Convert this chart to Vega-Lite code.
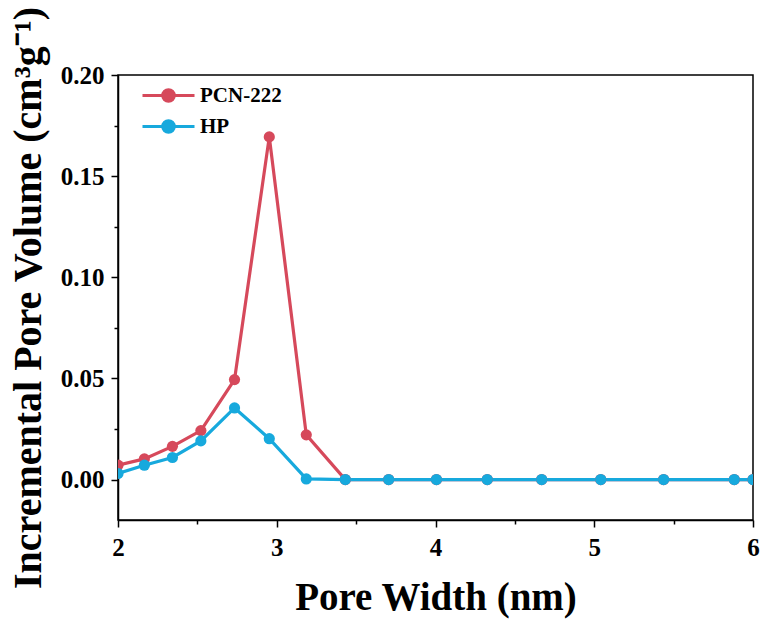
{
  "$schema": "https://vega.github.io/schema/vega-lite/v6.json",
  "autosize": "none",
  "width": 635,
  "height": 445,
  "padding": {"left": 118, "top": 75, "right": 7, "bottom": 99},
  "background": "white",
  "config": {
    "view": {"stroke": "black", "strokeWidth": 1.5},
    "font": "Liberation Serif"
  },
  "data": {"values": [
    {"series": "PCN-222", "x": 2.0, "y": 0.0071},
    {"series": "PCN-222", "x": 2.166, "y": 0.0102},
    {"series": "PCN-222", "x": 2.343, "y": 0.0164},
    {"series": "PCN-222", "x": 2.522, "y": 0.0242},
    {"series": "PCN-222", "x": 2.734, "y": 0.0494},
    {"series": "PCN-222", "x": 2.953, "y": 0.1694},
    {"series": "PCN-222", "x": 3.186, "y": 0.0221},
    {"series": "PCN-222", "x": 3.432, "y": 0.0},
    {"series": "PCN-222", "x": 3.705, "y": 0.0},
    {"series": "PCN-222", "x": 4.006, "y": 0.0},
    {"series": "PCN-222", "x": 4.326, "y": 0.0},
    {"series": "PCN-222", "x": 4.669, "y": 0.0},
    {"series": "PCN-222", "x": 5.041, "y": 0.0},
    {"series": "PCN-222", "x": 5.437, "y": 0.0},
    {"series": "PCN-222", "x": 5.882, "y": 0.0},
    {"series": "PCN-222", "x": 6.0, "y": 0.0},
    {"series": "HP", "x": 2.0, "y": 0.003},
    {"series": "HP", "x": 2.166, "y": 0.0071},
    {"series": "HP", "x": 2.343, "y": 0.0109},
    {"series": "HP", "x": 2.522, "y": 0.0191},
    {"series": "HP", "x": 2.734, "y": 0.0354},
    {"series": "HP", "x": 2.953, "y": 0.0202},
    {"series": "HP", "x": 3.186, "y": 0.0003},
    {"series": "HP", "x": 3.432, "y": 0.0},
    {"series": "HP", "x": 3.705, "y": 0.0},
    {"series": "HP", "x": 4.006, "y": 0.0},
    {"series": "HP", "x": 4.326, "y": 0.0},
    {"series": "HP", "x": 4.669, "y": 0.0},
    {"series": "HP", "x": 5.041, "y": 0.0},
    {"series": "HP", "x": 5.437, "y": 0.0},
    {"series": "HP", "x": 5.882, "y": 0.0},
    {"series": "HP", "x": 6.0, "y": 0.0}
  ]},
  "resolve": {"axis": {"x": "independent", "y": "independent"}},
  "layer": [
    {
      "mark": {"type": "line", "strokeWidth": 3.2, "clip": true},
      "encoding": {
        "x": {"field": "x", "type": "quantitative",
          "scale": {"domain": [2, 6], "nice": false, "zero": false},
          "axis": {"orient": "bottom", "values": [2, 3, 4, 5, 6], "format": "d", "grid": false,
            "domain": true, "domainColor": "black", "domainWidth": 1.5,
            "ticks": true, "tickColor": "black", "tickSize": 7, "tickWidth": 1.5,
            "labelFlush": false, "labelBound": false,
            "labelFont": "Liberation Serif", "labelFontWeight": "bold", "labelFontSize": 25, "labelColor": "black", "labelPadding": 8,
            "title": "Pore Width (nm)", "titleFont": "Liberation Serif", "titleFontWeight": "bold", "titleFontSize": 39, "titleColor": "black", "titlePadding": 18}},
        "y": {"field": "y", "type": "quantitative",
          "scale": {"domain": [-0.02, 0.2], "nice": false, "zero": false},
          "axis": {"orient": "left", "values": [0, 0.05, 0.1, 0.15, 0.2], "format": ".2f", "grid": false,
            "domain": true, "domainColor": "black", "domainWidth": 1.5,
            "ticks": true, "tickColor": "black", "tickSize": 7, "tickWidth": 1.5,
            "labelFlush": false, "labelBound": false,
            "labelFont": "Liberation Serif", "labelFontWeight": "bold", "labelFontSize": 25, "labelColor": "black", "labelPadding": 7,
            "title": "Incremental Pore Volume (cm³g⁻¹)", "titleFont": "Liberation Serif", "titleFontWeight": "bold", "titleFontSize": 40, "titleColor": "black", "titlePadding": 12}},
        "color": {"field": "series", "type": "nominal",
          "scale": {"domain": ["PCN-222", "HP"], "range": ["#D6495B", "#17A9DD"]},
          "legend": {"orient": "none", "legendX": 39, "legendY": 9, "padding": 0, "title": null,
            "symbolType": "M-2.6,0L2.6,0M-0.58,0A0.58,0.58 0 1,1 0.58,0A0.58,0.58 0 1,1 -0.58,0",
            "symbolSize": 400, "symbolStrokeWidth": 3,
            "labelFont": "Liberation Serif", "labelFontWeight": "bold", "labelFontSize": 21, "labelColor": "black",
            "labelOffset": 20, "rowPadding": 6}}
      }
    },
    {
      "mark": {"type": "point", "filled": true, "opacity": 1, "size": 125, "clip": true},
      "encoding": {
        "x": {"field": "x", "type": "quantitative", "axis": {"orient": "bottom", "values": [2.5, 3.5, 4.5, 5.5], "labels": false, "title": null, "domain": false, "grid": false, "tickColor": "black", "tickSize": 4, "tickWidth": 1.5}},
        "y": {"field": "y", "type": "quantitative", "axis": {"orient": "left", "values": [-0.025, 0.025, 0.075, 0.125, 0.175], "labels": false, "title": null, "domain": false, "grid": false, "tickColor": "black", "tickSize": 4, "tickWidth": 1.5}},
        "color": {"field": "series", "type": "nominal", "legend": null}
      }
    }
  ]
}
